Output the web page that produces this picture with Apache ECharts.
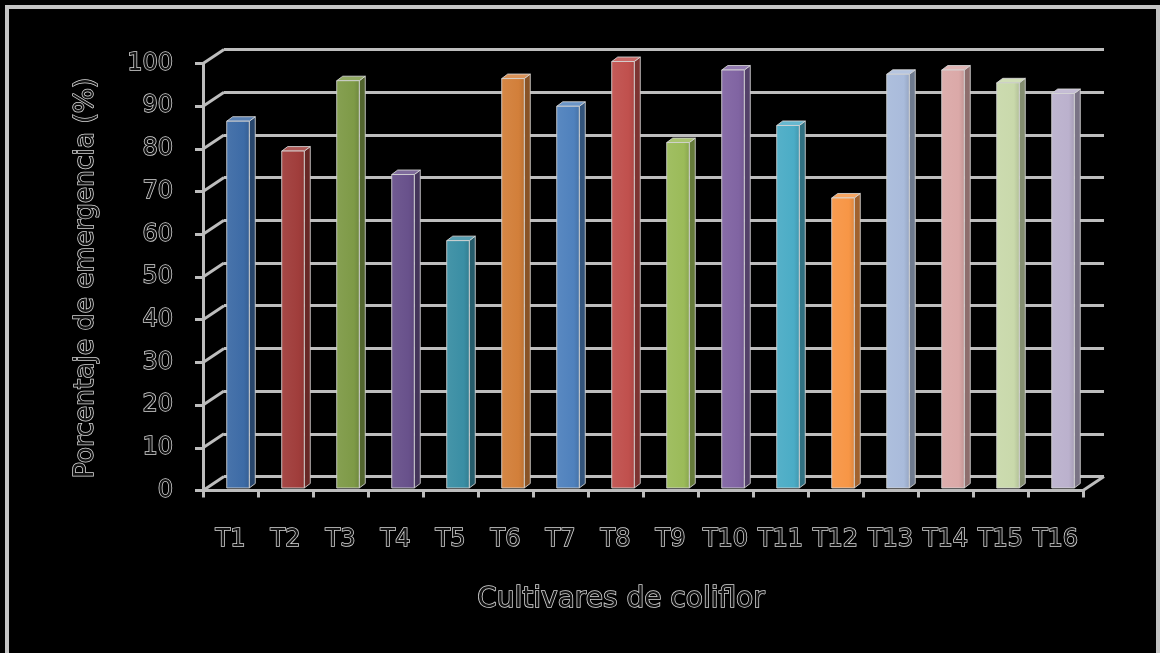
<!DOCTYPE html>
<html>
<head>
<meta charset="utf-8">
<title>Porcentaje de emergencia</title>
<script src="https://cdn.jsdelivr.net/npm/echarts@6/dist/echarts.min.js"></script>
<style>
  html, body { margin: 0; padding: 0; background: #000; }
  #chart { width: 1160px; height: 653px; }
</style>
</head>
<body>
<div id="chart"></div>
<script>
// Cultivars and their emergence percentage
const categories = ['T1', 'T2', 'T3', 'T4', 'T5', 'T6', 'T7', 'T8',
                    'T9', 'T10', 'T11', 'T12', 'T13', 'T14', 'T15', 'T16'];
const emergence = [86, 79, 95.5, 73.5, 58, 96, 89.5, 100, 81, 98, 85, 68, 97, 98, 95, 92.5];

// Value axis range
const yMin = 0;
const yMax = 100;
const yStep = 10;

// One colour per cultivar
const palette = ['#3d6ba6', '#a03d3b', '#7e9a47', '#68518b', '#3a8ea4', '#d27f3a',
                 '#4f81bd', '#c0504d', '#9bbb59', '#8064a2', '#4bacc6', '#f79646',
                 '#a9bbdb', '#dba9a8', '#c9d9ab', '#bbb1cd'];

// Depth of the floor / back wall and of each column (px)
const DX = 21, DY = -14;
const BDX = 6, BDY = -4.5;
const LINE = '#bdbdbd';
const FONT = 'DejaVu Sans';
const OUTLINE = '#d8d8d8';
const INK = '#121212';

function shade(hex, f) {
  const n = parseInt(hex.slice(1), 16);
  const r = (n >> 16) & 255, g = (n >> 8) & 255, b = n & 255;
  const mix = (c) => f < 0 ? Math.round(c * (1 + f)) : Math.round(c + (255 - c) * f);
  return 'rgb(' + mix(r) + ',' + mix(g) + ',' + mix(b) + ')';
}

const tickValues = [];
for (let v = yMin; v <= yMax; v += yStep) tickValues.push(v);

// Outlined lettering: dark fill with a light outline
const labelStyle = {
  fontFamily: FONT,
  fontSize: 24,
  color: INK,
  textBorderColor: OUTLINE,
  textBorderWidth: 1.5
};

function outlinedText(text, size) {
  return {
    text: text, fontFamily: FONT, fontSize: size,
    fill: INK, stroke: OUTLINE, lineWidth: 1.5,
    align: 'center', verticalAlign: 'middle'
  };
}

const chart = echarts.init(document.getElementById('chart'), null, { renderer: 'canvas' });

chart.setOption({
  backgroundColor: '#000',
  animation: false,
  grid: [
    { left: 203, top: 63.5, width: 880, height: 427 },    // front axes
    { left: 224, top: 49.5, width: 880, height: 427 },    // back wall
    { left: 210.5, top: 61.5, width: 880, height: 426.5 } // column plane
  ],
  xAxis: [
    {
      type: 'category', gridIndex: 0, data: categories, boundaryGap: true,
      axisLine: { show: true, lineStyle: { color: LINE, width: 3 } },
      axisTick: { show: true, length: 7, lineStyle: { color: LINE, width: 3 } },
      axisLabel: Object.assign({ margin: 37, interval: 0 }, labelStyle),
      splitLine: { show: false }
    },
    { type: 'category', gridIndex: 1, data: categories, show: false },
    { type: 'category', gridIndex: 2, data: categories, show: false }
  ],
  yAxis: [
    {
      type: 'value', gridIndex: 0, min: yMin, max: yMax, interval: yStep,
      axisLine: { show: true, lineStyle: { color: LINE, width: 3 } },
      axisTick: { show: true, length: 8, lineStyle: { color: LINE, width: 3 } },
      axisLabel: Object.assign({ margin: 30 }, labelStyle),
      splitLine: { show: false }
    },
    {
      type: 'value', gridIndex: 1, min: yMin, max: yMax, interval: yStep,
      axisLine: { show: false }, axisTick: { show: false }, axisLabel: { show: false },
      splitLine: { show: true, lineStyle: { color: LINE, width: 3 } }
    },
    {
      type: 'value', gridIndex: 2, min: yMin, max: yMax, interval: yStep, show: false,
      splitLine: { show: false }
    }
  ],
  graphic: [
    {
      type: 'rect', silent: true, z: 100,
      shape: { x: 7, y: 7, width: 1151, height: 700 },
      style: { fill: null, stroke: '#c4c4c4', lineWidth: 4 }
    },
    {
      type: 'text', silent: true, z: 100,
      x: 621, y: 600,
      style: outlinedText('Cultivares de coliflor', 28)
    },
    {
      type: 'text', silent: true, z: 100,
      x: 86, y: 278, rotation: Math.PI / 2,
      style: outlinedText('Porcentaje de emergencia (%)', 26.5)
    }
  ],
  series: [
    {
      // diagonal edges joining the front axis to the back wall
      type: 'custom', xAxisIndex: 0, yAxisIndex: 0, z: 1,
      data: tickValues.map(v => [0, v]),
      renderItem: function (params, api) {
        const cs = params.coordSys;
        const y = api.coord([0, api.value(1)])[1];
        const style = { stroke: LINE, lineWidth: 3, fill: null };
        const children = [{
          type: 'line',
          shape: { x1: cs.x, y1: y, x2: cs.x + DX, y2: y + DY },
          style: style
        }];
        if (api.value(1) === yMin) {
          children.push({
            type: 'line',
            shape: { x1: cs.x + cs.width, y1: y, x2: cs.x + cs.width + DX, y2: y + DY },
            style: style
          });
        }
        return { type: 'group', children: children };
      }
    },
    {
      // 3D columns
      type: 'custom', xAxisIndex: 2, yAxisIndex: 2, z: 3,
      data: emergence.map((v, i) => [i, v]),
      renderItem: function (params, api) {
        const top = api.coord([api.value(0), api.value(1)]);
        const base = api.coord([api.value(0), yMin]);
        const w = api.size([1, 0])[0] * 0.41;
        const x0 = top[0] - w / 2, x1 = x0 + w;
        const yt = top[1], yb = base[1];
        const c = palette[params.dataIndex % palette.length];
        const edge = 'rgba(215,215,215,0.85)';
        return {
          type: 'group',
          children: [
            {
              type: 'polygon',
              shape: { points: [[x1, yt], [x1 + BDX, yt + BDY], [x1 + BDX, yb + BDY], [x1, yb]] },
              style: { fill: shade(c, -0.35), stroke: edge, lineWidth: 1 }
            },
            {
              type: 'polygon',
              shape: { points: [[x0, yt], [x0 + BDX, yt + BDY], [x1 + BDX, yt + BDY], [x1, yt]] },
              style: { fill: shade(c, 0.15), stroke: edge, lineWidth: 1 }
            },
            {
              type: 'rect',
              shape: { x: x0, y: yt, width: w, height: yb - yt },
              style: {
                fill: new echarts.graphic.LinearGradient(0, 0, 1, 0, [
                  { offset: 0, color: shade(c, 0.06) },
                  { offset: 0.75, color: c },
                  { offset: 1, color: shade(c, -0.12) }
                ]),
                stroke: edge, lineWidth: 1
              }
            }
          ]
        };
      }
    }
  ]
});
</script>
</body>
</html>
